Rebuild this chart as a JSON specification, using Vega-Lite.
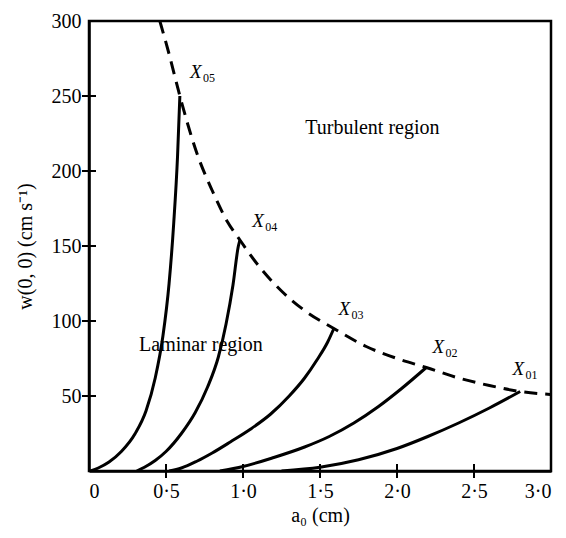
{
  "$schema": "https://vega.github.io/schema/vega-lite/v6.json",
  "width": 462,
  "height": 450,
  "autosize": {"type": "none"},
  "padding": {"left": 89, "top": 21, "right": 15, "bottom": 67},
  "background": "white",
  "config": {
    "font": "Liberation Serif",
    "view": {"stroke": "black", "strokeWidth": 2.5},
    "axis": {"grid": false, "ticks": false, "domainColor": "black", "domainWidth": 2.5, "labelColor": "black", "labelFont": "Liberation Serif", "labelFontSize": 20, "titleFont": "Liberation Serif", "titleFontSize": 20, "titleFontWeight": "normal", "titleColor": "black"}
  },
  "datasets": {
    "curves": [
      {"curve": "X05", "a": 0.01, "w": 0}, {"curve": "X05", "a": 0.06, "w": 2}, {"curve": "X05", "a": 0.13, "w": 6}, {"curve": "X05", "a": 0.21, "w": 13}, {"curve": "X05", "a": 0.30, "w": 25}, {"curve": "X05", "a": 0.37, "w": 40}, {"curve": "X05", "a": 0.43, "w": 62}, {"curve": "X05", "a": 0.48, "w": 90}, {"curve": "X05", "a": 0.52, "w": 125}, {"curve": "X05", "a": 0.55, "w": 165}, {"curve": "X05", "a": 0.575, "w": 210}, {"curve": "X05", "a": 0.59, "w": 250},
      {"curve": "X04", "a": 0.31, "w": 0}, {"curve": "X04", "a": 0.36, "w": 2.5}, {"curve": "X04", "a": 0.43, "w": 7}, {"curve": "X04", "a": 0.50, "w": 13}, {"curve": "X04", "a": 0.60, "w": 25}, {"curve": "X04", "a": 0.69, "w": 39}, {"curve": "X04", "a": 0.77, "w": 56}, {"curve": "X04", "a": 0.84, "w": 76}, {"curve": "X04", "a": 0.89, "w": 98}, {"curve": "X04", "a": 0.935, "w": 124}, {"curve": "X04", "a": 0.97, "w": 150}, {"curve": "X04", "a": 0.98, "w": 154},
      {"curve": "X03", "a": 0.52, "w": 0}, {"curve": "X03", "a": 0.60, "w": 2}, {"curve": "X03", "a": 0.70, "w": 6.5}, {"curve": "X03", "a": 0.80, "w": 12}, {"curve": "X03", "a": 0.92, "w": 19.5}, {"curve": "X03", "a": 1.05, "w": 28}, {"curve": "X03", "a": 1.18, "w": 38}, {"curve": "X03", "a": 1.30, "w": 50}, {"curve": "X03", "a": 1.40, "w": 62}, {"curve": "X03", "a": 1.48, "w": 74}, {"curve": "X03", "a": 1.55, "w": 86}, {"curve": "X03", "a": 1.59, "w": 95},
      {"curve": "X02", "a": 0.85, "w": 0}, {"curve": "X02", "a": 1.00, "w": 3}, {"curve": "X02", "a": 1.20, "w": 9}, {"curve": "X02", "a": 1.40, "w": 16}, {"curve": "X02", "a": 1.56, "w": 23}, {"curve": "X02", "a": 1.72, "w": 32}, {"curve": "X02", "a": 1.88, "w": 43}, {"curve": "X02", "a": 2.03, "w": 55}, {"curve": "X02", "a": 2.19, "w": 69},
      {"curve": "X01", "a": 1.25, "w": 0}, {"curve": "X01", "a": 1.50, "w": 2.5}, {"curve": "X01", "a": 1.75, "w": 7.5}, {"curve": "X01", "a": 2.00, "w": 15}, {"curve": "X01", "a": 2.20, "w": 23}, {"curve": "X01", "a": 2.40, "w": 32}, {"curve": "X01", "a": 2.60, "w": 42}, {"curve": "X01", "a": 2.80, "w": 53}
    ],
    "boundary": [
      {"a": 0.46, "w": 300}, {"a": 0.52, "w": 278}, {"a": 0.59, "w": 250}, {"a": 0.70, "w": 212}, {"a": 0.80, "w": 187}, {"a": 0.90, "w": 166}, {"a": 0.98, "w": 154}, {"a": 1.10, "w": 137}, {"a": 1.25, "w": 120}, {"a": 1.40, "w": 107}, {"a": 1.59, "w": 95}, {"a": 1.80, "w": 83}, {"a": 2.00, "w": 75}, {"a": 2.19, "w": 69}, {"a": 2.40, "w": 62}, {"a": 2.60, "w": 57}, {"a": 2.80, "w": 53}, {"a": 3.00, "w": 51}
    ],
    "ticks": [
      {"axis": "x", "a": 0.5, "w": 0}, {"axis": "x", "a": 1.0, "w": 0}, {"axis": "x", "a": 1.5, "w": 0}, {"axis": "x", "a": 2.0, "w": 0}, {"axis": "x", "a": 2.5, "w": 0},
      {"axis": "y", "a": 0, "w": 50}, {"axis": "y", "a": 0, "w": 100}, {"axis": "y", "a": 0, "w": 150}, {"axis": "y", "a": 0, "w": 200}, {"axis": "y", "a": 0, "w": 250}
    ],
    "labels": [
      {"sub": "05", "a": 0.656, "w": 262},
      {"sub": "04", "a": 1.06, "w": 163},
      {"sub": "03", "a": 1.62, "w": 104},
      {"sub": "02", "a": 2.23, "w": 79},
      {"sub": "01", "a": 2.75, "w": 64}
    ],
    "regions": [
      {"text": "Turbulent region", "a": 1.84, "w": 229},
      {"text": "Laminar region", "a": 0.727, "w": 84}
    ]
  },
  "layer": [
    {
      "data": {"name": "curves"},
      "mark": {"type": "line", "color": "black", "strokeWidth": 3, "interpolate": "monotone", "clip": true},
      "encoding": {
        "x": {"field": "a", "type": "quantitative", "scale": {"domain": [0, 3], "nice": false},
          "axis": {"values": [0, 0.5, 1, 1.5, 2, 2.5, 3], "labelPadding": 10, "title": "a₀ (cm)", "titlePadding": 4,
            "labelExpr": "datum.value == 0 ? '0' : replace(format(datum.value, '.1f'), '.', '·')"}},
        "y": {"field": "w", "type": "quantitative", "scale": {"domain": [0, 300], "nice": false},
          "axis": {"values": [50, 100, 150, 200, 250, 300], "labelPadding": 8, "title": "w(0, 0) (cm s⁻¹)", "titlePadding": 16}},
        "detail": {"field": "curve"}
      }
    },
    {
      "data": {"name": "boundary"},
      "mark": {"type": "line", "color": "black", "strokeWidth": 3, "strokeDash": [13, 8], "interpolate": "monotone", "clip": true},
      "encoding": {
        "x": {"field": "a", "type": "quantitative"},
        "y": {"field": "w", "type": "quantitative"}
      }
    },
    {
      "data": {"name": "ticks"},
      "transform": [{"filter": "datum.axis == 'x'"}],
      "mark": {"type": "tick", "orient": "vertical", "color": "#000000", "size": 14, "thickness": 2, "opacity": 1},
      "encoding": {
        "x": {"field": "a", "type": "quantitative"},
        "y": {"field": "w", "type": "quantitative"}
      }
    },
    {
      "data": {"name": "ticks"},
      "transform": [{"filter": "datum.axis == 'y'"}],
      "mark": {"type": "tick", "orient": "horizontal", "color": "#000000", "size": 14, "thickness": 2, "opacity": 1},
      "encoding": {
        "x": {"field": "a", "type": "quantitative"},
        "y": {"field": "w", "type": "quantitative"}
      }
    },
    {
      "data": {"name": "labels"},
      "mark": {"type": "text", "text": "X", "fontStyle": "italic", "fontSize": 19, "align": "left", "baseline": "alphabetic", "color": "black"},
      "encoding": {
        "x": {"field": "a", "type": "quantitative"},
        "y": {"field": "w", "type": "quantitative"}
      }
    },
    {
      "data": {"name": "labels"},
      "mark": {"type": "text", "fontSize": 12, "align": "left", "baseline": "alphabetic", "dx": 13, "dy": 4, "color": "black"},
      "encoding": {
        "x": {"field": "a", "type": "quantitative"},
        "y": {"field": "w", "type": "quantitative"},
        "text": {"field": "sub"}
      }
    },
    {
      "data": {"name": "regions"},
      "mark": {"type": "text", "fontSize": 20, "align": "center", "baseline": "middle", "color": "black"},
      "encoding": {
        "x": {"field": "a", "type": "quantitative"},
        "y": {"field": "w", "type": "quantitative"},
        "text": {"field": "text"}
      }
    }
  ]
}
